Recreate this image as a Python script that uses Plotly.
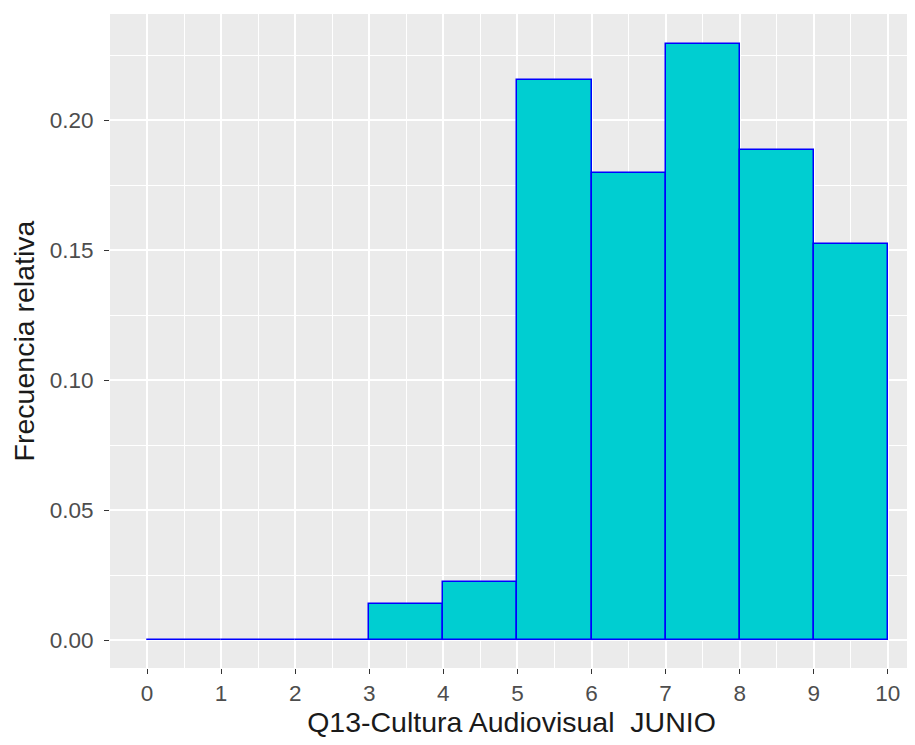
import plotly.graph_objects as go

# Relative frequency per unit bin (0-1, 1-2, ..., 9-10)
binStarts = [0, 1, 2, 3, 4, 5, 6, 7, 8, 9]
relFreq = [0.0, 0.0, 0.0, 0.0138, 0.0223, 0.2154, 0.1795, 0.2292, 0.1885, 0.1523]
xTicks = [0, 1, 2, 3, 4, 5, 6, 7, 8, 9, 10]
yTicks = [0.00, 0.05, 0.10, 0.15, 0.20]

font = 'Liberation Sans, Arial, sans-serif'

fig = go.Figure()
fig.add_trace(go.Bar(
    x=[b + 0.5 for b in binStarts],
    y=relFreq,
    width=1,
    marker=dict(color='#00CED1', line=dict(color='#0000FF', width=1.5)),
    showlegend=False
))

# page body adds an 8px offset, so margins are shifted accordingly
fig.update_layout(
    width=915, height=745,
    margin=dict(l=102, r=10, t=6, b=85),
    paper_bgcolor='white',
    plot_bgcolor='#EBEBEB',
    bargap=0,
    font=dict(family=font, color='#4D4D4D'),
    xaxis=dict(
        range=[-0.5, 10.34],
        automargin=False,
        tickmode='array', tickvals=xTicks, ticktext=[str(t) for t in xTicks],
        ticks='outside', ticklen=5, tickcolor='#333333', tickwidth=1,
        tickfont=dict(size=22.5, color='#4D4D4D'),
        showgrid=True, gridcolor='white', gridwidth=1.6,
        minor=dict(tickmode='linear', tick0=0.5, dtick=1, showgrid=True,
                   gridcolor='white', gridwidth=0.8, ticks=''),
        zeroline=False, showline=False,
        title=dict(text='Q13-Cultura Audiovisual\u00a0 JUNIO', standoff=6,
                   font=dict(size=28.5, color='#1A1A1A'))
    ),
    yaxis=dict(
        range=[-0.01077, 0.2408],
        automargin=False,
        tickmode='array', tickvals=yTicks, ticktext=['%.2f' % t for t in yTicks],
        ticks='outside', ticklen=5, tickcolor='#333333', tickwidth=1,
        ticklabelstandoff=6,
        tickfont=dict(size=22.5, color='#4D4D4D'),
        showgrid=True, gridcolor='white', gridwidth=1.6,
        minor=dict(tickmode='linear', tick0=0.025, dtick=0.05, showgrid=True,
                   gridcolor='white', gridwidth=0.8, ticks=''),
        zeroline=False, showline=False,
        title=dict(text='Frecuencia relativa', standoff=6,
                   font=dict(size=28.5, color='#1A1A1A'))
    )
)

fig.write_html("out.html")
